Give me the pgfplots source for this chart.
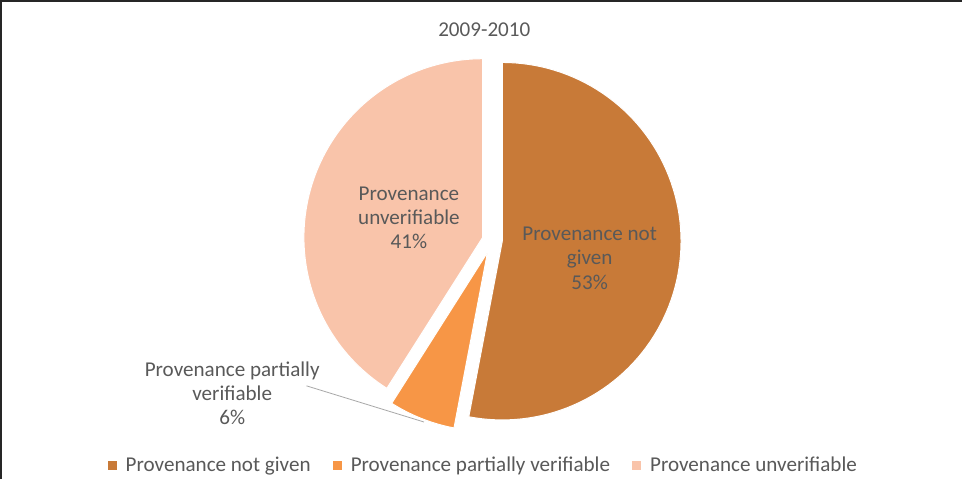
\documentclass[border=0pt]{standalone}
\usepackage{pgfplots}
\pgfplotsset{compat=1.18}
\usepackage{fontspec}
\setmainfont{Carlito}

\definecolor{notgiven}{HTML}{C87A38}
\definecolor{partial}{HTML}{F79646}
\definecolor{unverif}{HTML}{F9C4AA}
\definecolor{txt}{HTML}{595959}

% shares in percent
\def\pA{53}\def\pB{6}\def\pC{41}

% one exploded slice: start angle, end angle, colour, explode distance, legend text
\newcommand{\pieslice}[5]{%
  \pgfmathsetmacro{\pmid}{(#1+#2)/2}%
  \pgfmathsetmacro{\cx}{495+#4*cos(\pmid)}%
  \pgfmathsetmacro{\cy}{245-#4*sin(\pmid)}%
  \edef\temp{\noexpand\addplot[fill=#3, draw=white, line width=1pt,
      domain=#2:#1, samples=90, variable=\noexpand\t]
    ({\cx+178*cos(\noexpand\t)},{\cy-178*sin(\noexpand\t)})
    -- (axis cs:\cx,\cy) -- cycle;}%
  \temp
  \addlegendentry{#5}%
}

\begin{document}
\begin{tikzpicture}
\begin{axis}[
    scale only axis, width=963pt, height=483pt,
    xmin=0, xmax=963, ymin=0, ymax=483, y dir=reverse,
    hide axis, clip=false,
    legend columns=-1,
    legend image code/.code={\fill[#1, draw=none] (0pt,-4.5pt) rectangle (9pt,4.5pt);},
    legend style={at={(axis cs:486,469)}, anchor=center, draw=none,
      font=\fontsize{21}{24}\selectfont, text=txt,
      /tikz/every odd column/.append style={column sep=7pt},
      /tikz/every even column/.append style={column sep=20pt}},
  ]
  \pgfmathsetmacro{\aA}{90-3.6*\pA}
  \pgfmathsetmacro{\aB}{\aA-3.6*\pB}
  \pgfmathsetmacro{\aC}{\aB-3.6*\pC}
  \pieslice{90}{\aA}{notgiven}{10}{Provenance not given}
  \pieslice{\aA}{\aB}{partial}{13}{Provenance partially verifiable}
  \pieslice{\aB}{\aC}{unverif}{10}{Provenance unverifiable}

  % leader line of the small slice
  \addplot[color=black!35, line width=0.8pt, forget plot] coordinates {(310,390) (427,426)};

  % frame (left and top edges only are visible)
  \draw[black!85, line width=1.5pt] (axis cs:5.5,483) -- (axis cs:5.5,6.5) -- (axis cs:963,6.5);

  \begin{scope}[every node/.style={text=txt, align=center, font=\fontsize{21}{24}\selectfont}]
    \node at (axis cs:487,35) {2009-2010};
    \node at (axis cs:412,223) {Provenance\\unverifiable\\41\%};
    \node at (axis cs:592,263) {Provenance not\\given\\53\%};
    \node at (axis cs:236,397) {Provenance partially\\verifiable\\6\%};
  \end{scope}
\end{axis}
\end{tikzpicture}
\end{document}
